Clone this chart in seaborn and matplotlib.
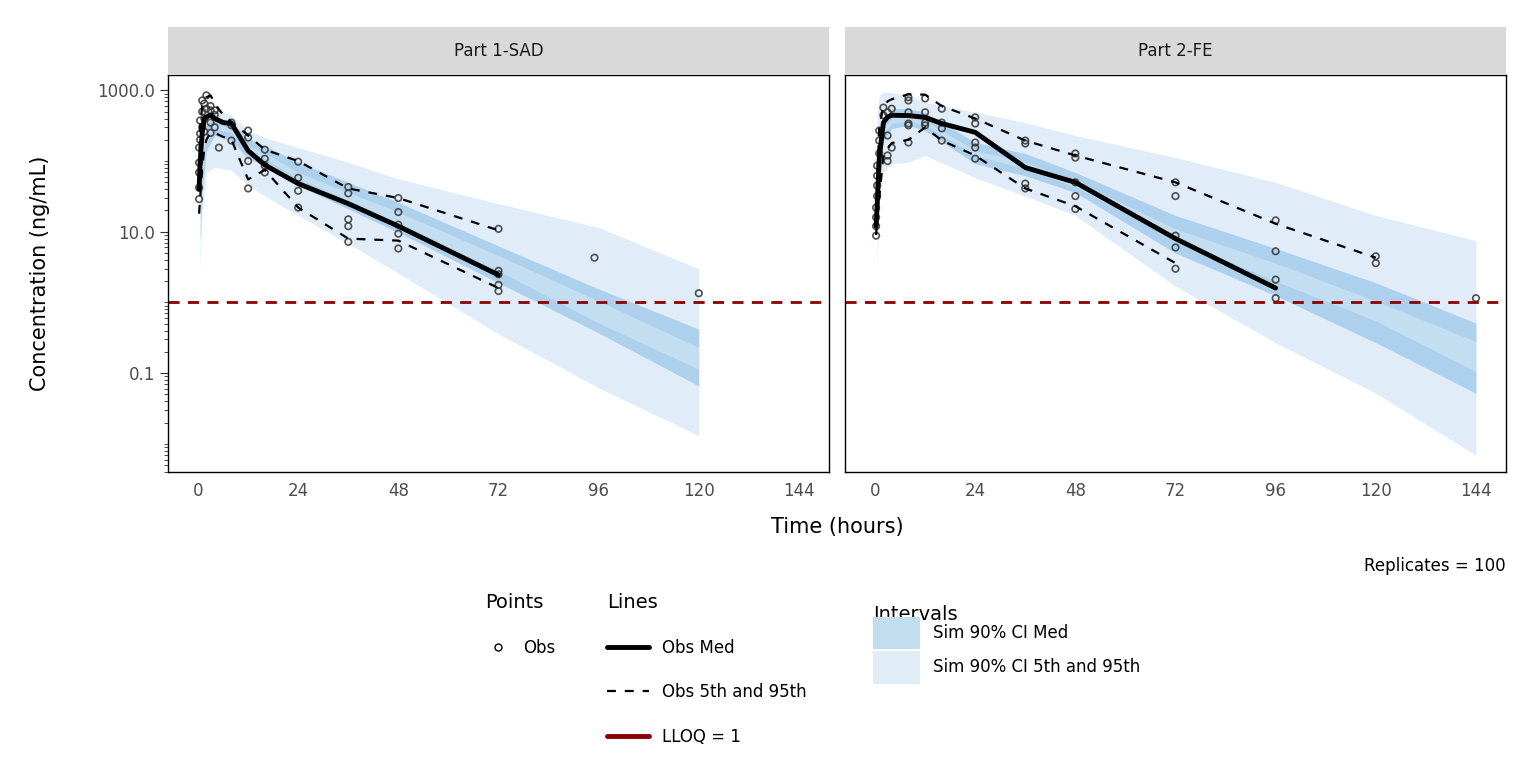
import numpy as np
import pandas as pd
import matplotlib
matplotlib.use("Agg")
import matplotlib.pyplot as plt
import matplotlib.ticker as mticker
from matplotlib.lines import Line2D
from matplotlib.patches import Patch
import seaborn as sns

# ---- data ----
panels = ["Part 1-SAD", "Part 2-FE"]

# observed concentrations
obs_time_1 = [0.25]*5 + [0.5]*3 + [1]*3 + [1.5]*3 + [2]*2 + [3]*4 + [4]*3 + [5] + [8]*3 + [12]*4 + [16]*4 + [24]*4 + [36]*5 + [48]*5 + [72]*5 + [95] + [120]
obs_conc_1 = [29, 42, 69, 95, 155, 245, 375, 200, 720, 500, 300, 650, 400, 260, 850, 550,
              600, 520, 350, 250, 520, 450, 300, 155, 350, 320, 195, 270, 215, 100, 41,
              145, 108, 86, 69, 98, 58, 38, 22, 43, 35, 15, 12, 7.2, 30, 19, 12.6, 9.4, 5.8,
              11, 2.8, 2.5, 1.77, 1.45, 4.3, 1.35]
obs_time_2 = [0.25]*4 + [0.5]*4 + [1]*3 + [2]*2 + [3]*4 + [4]*2 + [8]*6 + [12]*4 + [16]*4 + [24]*5 + [36]*4 + [48]*5 + [72]*5 + [96]*4 + [120]*2 + [144]
obs_conc_2 = [8.8, 12, 16, 22, 32, 45, 62, 86, 128, 195, 270, 570, 445, 490, 230, 120, 100,
              550, 155, 800, 720, 490, 340, 320, 183, 770, 490, 350, 320, 550, 350, 290, 195,
              415, 340, 183, 155, 108, 195, 177, 48, 41, 128, 112, 50, 32, 21,
              50, 32, 8.8, 6.0, 3.0, 14.5, 5.3, 2.1, 1.15, 4.5, 3.6, 1.15]

# observed median / 5th / 95th
line_time_1 = [0.25, 0.5, 1, 1.5, 2, 3, 4, 6, 8, 12, 16, 24, 36, 48, 72]
med_1 = [40, 100, 250, 400, 420, 450, 400, 350, 340, 140, 88, 48, 25, 12, 2.45]
p95_1 = [45, 300, 600, 700, 800, 850, 650, 450, 360, 230, 145, 100, 41, 30, 10.5]
p05_1 = [18, 30, 80, 150, 200, 250, 250, 220, 200, 55, 75, 22, 8, 7.5, 1.6]
line_time_2 = [0.25, 0.5, 1, 2, 3, 4, 8, 12, 16, 24, 36, 48, 72, 96, 120]
med_2 = [12, 23, 108, 350, 420, 445, 440, 415, 340, 255, 81, 50, 8, 1.6, np.nan]
p95_2 = [22, 50, 300, 600, 700, 750, 880, 870, 600, 400, 195, 120, 50, 13, 4.3]
p05_2 = [9, 15, 30, 120, 150, 180, 200, 300, 195, 120, 41, 23, 3.6, np.nan, np.nan]

# simulated 90% CI bands
sim_time_1 = [0.5, 1, 2, 4, 8, 12, 16, 24, 36, 48, 72, 96, 120]
p05_lo_1 = [3.0, 20, 69, 81, 74, 45, 32, 17, 6.8, 2.6, 0.36, 0.062, 0.013]
p05_hi_1 = [12, 53, 183, 290, 250, 141, 108, 56, 28, 13.5, 2.8, 0.51, 0.114]
med_lo_1 = [7.4, 38, 141, 230, 195, 108, 86, 45, 21, 9.8, 1.9, 0.37, 0.066]
med_hi_1 = [27, 100, 320, 445, 350, 210, 165, 96, 50, 26, 6.3, 1.55, 0.42]
p95_lo_1 = [17, 74, 230, 350, 290, 165, 130, 69, 36, 19, 4.6, 1.05, 0.23]
p95_hi_1 = [45, 195, 445, 550, 445, 270, 215, 155, 96, 56, 25, 11.5, 3.0]
sim_time_2 = [0.5, 1, 2, 4, 8, 12, 24, 36, 48, 72, 96, 120, 144]
p05_lo_2 = [2.6, 36, 69, 92, 96, 120, 58, 32, 17, 1.7, 0.27, 0.052, 0.0069]
p05_hi_2 = [23, 108, 245, 340, 375, 320, 120, 78, 43, 8.0, 2.0, 0.55, 0.105]
med_lo_2 = [17, 86, 195, 290, 320, 270, 92, 62, 36, 5.0, 1.25, 0.27, 0.052]
med_hi_2 = [53, 195, 400, 550, 550, 490, 183, 128, 69, 17, 5.8, 1.9, 0.51]
p95_lo_2 = [32, 141, 290, 400, 445, 375, 141, 96, 53, 11, 3.6, 1.05, 0.28]
p95_hi_2 = [450, 850, 935, 935, 850, 680, 490, 350, 230, 112, 50, 17, 7.5]

lloq = 1
replicates = 100

obs = [pd.DataFrame({"time": obs_time_1, "conc": obs_conc_1}),
       pd.DataFrame({"time": obs_time_2, "conc": obs_conc_2})]
lines = [pd.DataFrame({"time": line_time_1, "med": med_1, "p95": p95_1, "p05": p05_1}),
         pd.DataFrame({"time": line_time_2, "med": med_2, "p95": p95_2, "p05": p05_2})]
sims = [pd.DataFrame({"time": sim_time_1, "a": p05_lo_1, "b": p05_hi_1, "c": med_lo_1,
                      "d": med_hi_1, "e": p95_lo_1, "f": p95_hi_1}),
        pd.DataFrame({"time": sim_time_2, "a": p05_lo_2, "b": p05_hi_2, "c": med_lo_2,
                      "d": med_hi_2, "e": p95_lo_2, "f": p95_hi_2})]

sns.set_style("white")
plt.rcParams["font.family"] = ["DejaVu Sans"]
plt.rcParams["text.color"] = "black"

W, H = 1536, 768
fig = plt.figure(figsize=(15.36, 7.68), dpi=100)

band_col = "#c2dbf0"
med_col = "#338dd2"
lefts = [168, 845]
for i, left in enumerate(lefts):
    ax = fig.add_axes([left / W, 1 - 472 / H, 661 / W, 397 / H])
    s = sims[i]
    ax.fill_between(s["time"], s["a"], s["b"], color=band_col, alpha=0.5, lw=0)
    ax.fill_between(s["time"], s["e"], s["f"], color=band_col, alpha=0.5, lw=0)
    ax.fill_between(s["time"], s["c"], s["d"], color=med_col, alpha=0.29, lw=0)
    ax.axhline(lloq, color="#8b0000", ls=(0, (4, 3)), lw=2)
    l = lines[i]
    sns.lineplot(data=l, x="time", y="p95", ax=ax, color="black", lw=1.6, ls=(0, (4, 4)))
    sns.lineplot(data=l, x="time", y="p05", ax=ax, color="black", lw=1.6, ls=(0, (4, 4)))
    sns.lineplot(data=l, x="time", y="med", ax=ax, color="black", lw=3.5)
    sns.scatterplot(data=obs[i], x="time", y="conc", ax=ax, facecolor="none",
                    edgecolor="#333333", linewidth=1.2, s=22, alpha=0.85)
    ax.set_yscale("log")
    ax.set_ylim(0.004, 1650)
    ax.set_xlim(-7.2, 151.2)
    ax.set_xticks([0, 24, 48, 72, 96, 120, 144])
    ax.set_xlabel("")
    ax.set_ylabel("")
    for sp in ax.spines.values():
        sp.set_color("black")
        sp.set_linewidth(1)
    ax.tick_params(axis="x", labelsize=12, colors="#333333", length=4, labelcolor="#4d4d4d")
    if i == 0:
        ax.yaxis.set_major_locator(mticker.FixedLocator([0.1, 10, 1000]))
        ax.yaxis.set_major_formatter(mticker.FixedFormatter(["0.1", "10.0", "1000.0"]))
        ax.yaxis.set_minor_locator(mticker.LogLocator(base=10, subs=np.arange(1, 10), numticks=20))
        ax.yaxis.set_minor_formatter(mticker.NullFormatter())
        ax.tick_params(axis="y", which="major", labelsize=12, labelcolor="#4d4d4d",
                       colors="#333333", length=6, left=True)
        ax.tick_params(axis="y", which="minor", length=3, left=True, colors="#333333")
    else:
        ax.set_yticks([])
        ax.yaxis.set_minor_locator(mticker.NullLocator())
    # facet strip
    strip = fig.add_axes([left / W, 1 - 75 / H, 661 / W, 48 / H])
    strip.set_facecolor("#d9d9d9")
    strip.set_xticks([])
    strip.set_yticks([])
    for sp in strip.spines.values():
        sp.set_visible(False)
    strip.text(0.5, 0.5, panels[i], ha="center", va="center", fontsize=12, color="#1a1a1a")

fig.text(837 / W, 1 - 527 / H, "Time (hours)", ha="center", va="center", fontsize=15)
fig.text(40 / W, 1 - 273 / H, "Concentration (ng/mL)", ha="center", va="center",
         rotation=90, fontsize=15)
fig.text(1506 / W, 1 - 566 / H, f"Replicates = {replicates}", ha="right", va="center", fontsize=12)

# legends
leg_kw = dict(frameon=False, fontsize=12, title_fontsize=14, alignment="left", labelspacing=1.6)
h_pts = [Line2D([], [], ls="none", marker="o", mfc="none", mec="black", ms=5)]
fig.legend(h_pts, ["Obs"], loc="upper left", bbox_to_anchor=(470 / W, 1 - 578 / H),
           title="Points", handlelength=1.5, **leg_kw)
h_lines = [Line2D([], [], color="black", lw=3.5),
           Line2D([], [], color="black", lw=1.6, ls=(0, (4, 4))),
           Line2D([], [], color="#8b0000", lw=3.5)]
fig.legend(h_lines, ["Obs Med", "Obs 5th and 95th", f"LLOQ = {lloq}"], loc="upper left",
           bbox_to_anchor=(592 / W, 1 - 578 / H), title="Lines", handlelength=2.5, **leg_kw)
h_int = [Patch(facecolor="#c2dcf0", edgecolor="none"), Patch(facecolor="#e0edf7", edgecolor="none")]
fig.legend(h_int, ["Sim 90% CI Med", "Sim 90% CI 5th and 95th"], loc="upper left",
           bbox_to_anchor=(858 / W, 1 - 580 / H), title="Intervals",
           handlelength=2.8, handleheight=2.6, frameon=False, fontsize=12, title_fontsize=14,
           alignment="left", labelspacing=0.15, borderpad=0.4)
fig.legends[-1].get_title().set_position((0, -10))

fig.savefig("out.png", dpi=100)
